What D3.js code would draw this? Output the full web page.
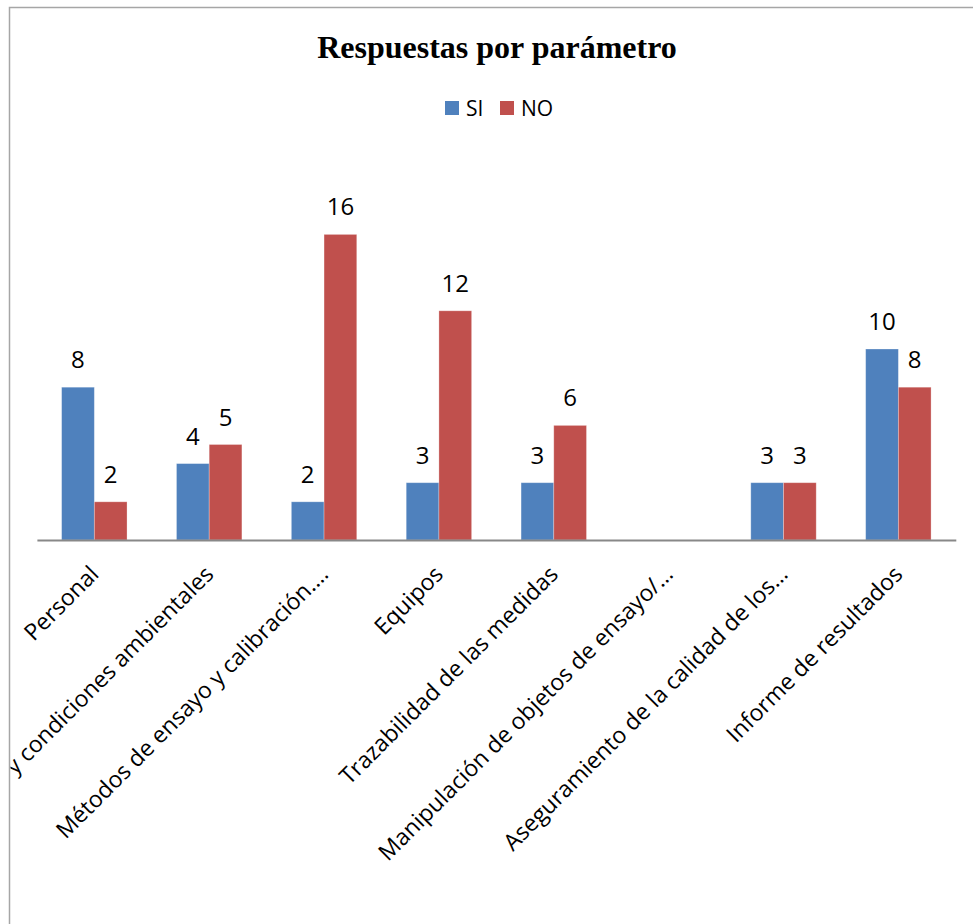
<!DOCTYPE html>
<html>
<head>
<meta charset="utf-8">
<script src="https://cdn.jsdelivr.net/npm/d3@7"></script>
<style>
  html, body { margin: 0; padding: 0; background: #fff; }
  svg { display: block; }
</style>
</head>
<body>
<svg id="chart" width="973" height="924"></svg>
<script>
const categories = [
  "Personal",
  "Instalaciones y condiciones ambientales",
  "Métodos de ensayo y calibración.…",
  "Equipos",
  "Trazabilidad de las medidas",
  "Manipulación de objetos de ensayo/…",
  "Aseguramiento de la calidad de los…",
  "Informe de resultados"
];
const seriesNames = ["SI", "NO"];
const siValues = [8, 4, 2, 3, 3, null, 3, 10];
const noValues = [2, 5, 16, 12, 6, null, 3, 8];
const seriesColors = ["#4F81BD", "#C0504D"];

const svg = d3.select("#chart");
const W = 973, H = 924;

// chart frame
svg.append("rect")
  .attr("x", 9.5).attr("y", 7.5)
  .attr("width", W + 20).attr("height", H + 20)
  .attr("fill", "#fff").attr("stroke", "#a6a6a6").attr("stroke-width", 1.5);

svg.append("clipPath").attr("id", "frameClip")
  .append("rect").attr("x", 10.5).attr("y", 8).attr("width", W).attr("height", H);

const root = svg.append("g").attr("clip-path", "url(#frameClip)");

const plot = { left: 36.9, right: 955.8, top: 195, bottom: 540 };

const x0 = d3.scaleBand().domain(categories).range([plot.left, plot.right]).padding(0);
const x1 = d3.scaleBand().domain(seriesNames).range([0, x0.bandwidth()]).paddingInner(0).paddingOuter(0.756);
const y = d3.scaleLinear().domain([0, 18]).range([plot.bottom, plot.bottom - 18 * 19.1]);

const rows = categories.map((c, i) => ({ cat: c, vals: [siValues[i], noValues[i]] }));

const groups = root.append("g").selectAll("g.grp")
  .data(rows).join("g")
  .attr("transform", d => `translate(${x0(d.cat)},0)`);

groups.selectAll("rect")
  .data(d => d.vals.map((v, j) => ({ s: seriesNames[j], v, j })).filter(e => e.v != null))
  .join("rect")
  .attr("x", e => x1(e.s))
  .attr("y", e => y(e.v))
  .attr("width", x1.bandwidth())
  .attr("height", e => y(0) - y(e.v))
  .attr("fill", e => seriesColors[e.j])
  .attr("stroke", "rgba(255,255,255,0.35)")
  .attr("stroke-width", 0.8);

groups.selectAll("text.val")
  .data(d => d.vals.map((v, j) => ({ s: seriesNames[j], v, j })).filter(e => e.v != null))
  .join("text")
  .attr("class", "val")
  .attr("x", e => x1(e.s) + x1.bandwidth() / 2)
  .attr("y", e => y(e.v) - 19)
  .attr("text-anchor", "middle")
  .attr("font-family", "'Open Sans', sans-serif")
  .attr("font-size", 24)
  .attr("fill", "#000")
  .text(e => e.v);

// x axis
const xAxis = d3.axisBottom(x0).tickSize(0).tickPadding(0);
const axG = root.append("g").attr("transform", `translate(0,${plot.bottom})`).call(xAxis);
axG.select(".domain").attr("stroke", "#888").attr("stroke-width", 2);
axG.selectAll(".tick text")
  .attr("font-family", "'Open Sans', sans-serif")
  .attr("font-size", 23)
  .attr("fill", "#000")
  .attr("text-anchor", "end")
  .attr("x", 0).attr("y", 0).attr("dy", "0.35em")
  .attr("transform", "translate(0,30) rotate(-45)");

// title
root.append("text")
  .attr("x", 497).attr("y", 58)
  .attr("text-anchor", "middle")
  .attr("font-family", "'Liberation Serif', 'Times New Roman', serif")
  .attr("font-weight", "bold")
  .attr("font-size", 32)
  .attr("fill", "#000")
  .text("Respuestas por parámetro");

// legend
const legendX = [445, 500];
const lg = root.append("g").selectAll("g")
  .data(seriesNames).join("g")
  .attr("transform", (d, i) => `translate(${legendX[i]},101)`);
lg.append("rect").attr("width", 14).attr("height", 14).attr("fill", (d, i) => seriesColors[i]);
lg.append("text")
  .attr("x", 21).attr("y", 15)
  .attr("font-family", "'Open Sans', sans-serif")
  .attr("font-size", 21)
  .attr("fill", "#000")
  .text(d => d);
</script>
</body>
</html>
